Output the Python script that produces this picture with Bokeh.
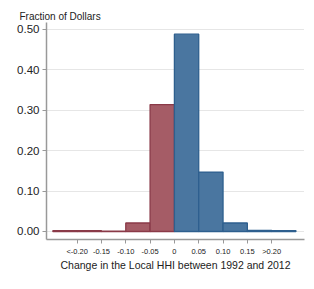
from bokeh.plotting import figure
from bokeh.models import Range1d, FixedTicker, Title
from bokeh.embed import file_html
from bokeh.resources import INLINE

# Data: histogram bins (left edges, right edges) and fraction of dollars
bin_left = [-0.25, -0.20, -0.15, -0.10, -0.05, 0.00, 0.05, 0.10, 0.15, 0.20]
bin_right = [-0.20, -0.15, -0.10, -0.05, 0.00, 0.05, 0.10, 0.15, 0.20, 0.25]
fraction = [0.002, 0.002, 0.001, 0.021, 0.314, 0.488, 0.147, 0.021, 0.003, 0.002]

x_ticks = [-0.20, -0.15, -0.10, -0.05, 0.0, 0.05, 0.10, 0.15, 0.20]
x_tick_labels = ["<-0.20", "-0.15", "-0.10", "-0.05", "0", "0.05", "0.10", "0.15", ">0.20"]
y_ticks = [0.0, 0.1, 0.2, 0.3, 0.4, 0.5]
y_tick_labels = ["0.00", "0.10", "0.20", "0.30", "0.40", "0.50"]

FONT = "Liberation Sans"

p = figure(width=306, height=281, output_backend="svg", toolbar_location=None,
           x_range=Range1d(-0.263, 0.2675), y_range=Range1d(-0.0198, 0.517),
           min_border_left=46, min_border_right=2, min_border_bottom=42, min_border_top=22)

neg_l = [l for l, r in zip(bin_left, bin_right) if r <= 0]
neg_r = [r for r in bin_right if r <= 0]
neg_v = [f for f, r in zip(fraction, bin_right) if r <= 0]
pos_l = [l for l in bin_left if l >= 0]
pos_r = [r for l, r in zip(bin_left, bin_right) if l >= 0]
pos_v = [f for f, l in zip(fraction, bin_left) if l >= 0]

p.quad(left=neg_l, right=neg_r, bottom=0, top=neg_v,
       fill_color="#a55c66", line_color="#8a3a48", line_width=1.3)
p.quad(left=pos_l, right=pos_r, bottom=0, top=pos_v,
       fill_color="#4a76a0", line_color="#2e5f8e", line_width=1.3)

p.outline_line_color = None
p.xgrid.grid_line_color = None
p.ygrid.grid_line_color = "#cccccc"
p.ygrid.grid_line_dash = "1 1"
p.ygrid.grid_line_width = 1

p.xaxis.ticker = FixedTicker(ticks=x_ticks)
p.xaxis.major_label_overrides = {t: l for t, l in zip(x_ticks, x_tick_labels)}
p.yaxis.ticker = FixedTicker(ticks=y_ticks)
p.yaxis.major_label_overrides = {t: l for t, l in zip(y_ticks, y_tick_labels)}

for ax in (p.xaxis[0], p.yaxis[0]):
    ax.axis_line_color = "#999999"
    ax.axis_line_width = 1.5
    ax.major_tick_line_color = "#999999"
    ax.major_tick_in = 0
    ax.major_tick_out = 4
    ax.minor_tick_line_color = None
    ax.major_label_text_font = FONT
    ax.major_label_text_color = "#222222"

p.xaxis.major_label_text_font_size = "7.5px"
p.xaxis.major_label_standoff = 3
p.yaxis.major_label_text_font_size = "11.5px"
p.yaxis.major_label_standoff = 3

p.xaxis.axis_label = "Change in the Local HHI between 1992 and 2012"
p.xaxis.axis_label_text_font = FONT
p.xaxis.axis_label_text_font_size = "10.5px"
p.xaxis.axis_label_text_font_style = "normal"
p.xaxis.axis_label_text_color = "#222222"
p.xaxis.axis_label_standoff = 0

t = Title(text="Fraction of Dollars", align="left", offset=-27,
          text_font=FONT, text_font_size="10px", text_font_style="normal",
          text_color="#222222", standoff=2)
p.add_layout(t, "above")

open("out.html", "w").write(file_html(p, INLINE))
